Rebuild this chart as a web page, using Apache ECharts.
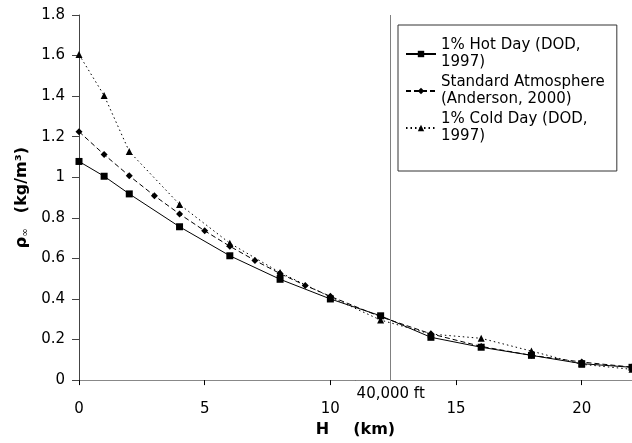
<!DOCTYPE html>
<html>
<head>
<meta charset="utf-8">
<script src="https://cdn.jsdelivr.net/npm/echarts@6/dist/echarts.min.js"></script>
<style>html,body{margin:0;padding:0;background:#fff}#c{width:632px;height:443px}</style>
</head>
<body>
<div id="c"></div>
<script>
// Data (altitude in km, density in kg/m^3)
const hotHeights = [0, 1, 2, 4, 6, 8, 10, 12, 14, 16, 18, 20, 22];
const hotDensity = [1.078, 1.005, 0.918, 0.756, 0.613, 0.497, 0.40, 0.317, 0.211, 0.162, 0.122, 0.081, 0.063];
const stdHeights = [0, 1, 2, 3, 4, 5, 6, 7, 8, 9, 10, 12, 14, 16, 18, 20, 22];
const stdDensity = [1.225, 1.112, 1.007, 0.909, 0.819, 0.736, 0.660, 0.590, 0.525, 0.467, 0.413, 0.312, 0.228, 0.166, 0.122, 0.089, 0.064];
const coldHeights = [0, 1, 2, 4, 6, 8, 10, 12, 14, 16, 18, 20, 22];
const coldDensity = [1.605, 1.403, 1.127, 0.866, 0.675, 0.530, 0.410, 0.296, 0.227, 0.206, 0.143, 0.078, 0.053];
const seriesNames = ['1% Hot Day (DOD,\n1997)', 'Standard Atmosphere\n(Anderson, 2000)', '1% Cold Day (DOD,\n1997)'];
const refLineKm = 12.4;
const refLineLabel = '40,000 ft';
const xTicks = {min: 0, max: 22, interval: 5};
const yTicks = {min: 0, max: 1.8, interval: 0.2};

const zip = (a, b) => a.map((v, i) => [v, b[i]]);
const FONT = 'DejaVu Sans, sans-serif';

const chart = echarts.init(document.getElementById('c'), null, {renderer: 'canvas'});
chart.setOption({
  animation: false,
  backgroundColor: '#fff',
  textStyle: {fontFamily: FONT},
  grid: {left: 79, top: 15, bottom: 60, right: -3, containLabel: false},
  legend: {
    orient: 'vertical',
    left: 398, top: 25,
    padding: [12, 12, 26, 7],
    itemWidth: 30, itemHeight: 8, itemGap: 3,
    borderColor: '#333', borderWidth: 1,
    backgroundColor: '#fff',
    textStyle: {fontFamily: FONT, fontSize: 15, color: '#000', lineHeight: 17},
    data: seriesNames
  },
  xAxis: [{
    type: 'value', min: xTicks.min, max: xTicks.max, interval: xTicks.interval,
    name: '{b|H}{g|}{b|(km)}', nameLocation: 'middle', nameGap: 41,
    nameTextStyle: {rich: {
      b: {fontSize: 16, fontWeight: 'bold', fontFamily: FONT, color: '#000'},
      g: {width: 24}
    }},
    axisLine: {show: true, onZero: false, lineStyle: {color: '#000', width: 1}},
    axisTick: {show: true, inside: false, length: 5, lineStyle: {color: '#000'}},
    axisLabel: {fontSize: 15, color: '#000', margin: 22, fontFamily: FONT, showMaxLabel: false},
    splitLine: {show: false}
  }, {
    type: 'value', position: 'top', min: xTicks.min, max: xTicks.max,
    axisLine: {show: true, lineStyle: {color: '#888', width: 1}},
    axisTick: {show: false}, axisLabel: {show: false}, splitLine: {show: false}
  }],
  yAxis: {
    type: 'value', min: yTicks.min, max: yTicks.max, interval: yTicks.interval,
    name: '{b|ρ}{s|∞}    {b|(kg/m³)}', nameLocation: 'middle', nameGap: 49, nameRotate: 90,
    nameTextStyle: {rich: {
      b: {fontSize: 16, fontWeight: 'bold', fontFamily: FONT, color: '#000'},
      s: {fontSize: 10, fontFamily: FONT, color: '#000', verticalAlign: 'bottom', padding: [6, 0, 0, 0]}
    }},
    axisLine: {show: true, onZero: false, lineStyle: {color: '#444', width: 1}},
    axisTick: {show: true, inside: false, length: 7, lineStyle: {color: '#444'}},
    axisLabel: {fontSize: 15, color: '#000', margin: 14, fontFamily: FONT},
    splitLine: {show: false}
  },
  series: [{
    name: seriesNames[0], type: 'line', data: zip(hotHeights, hotDensity),
    symbol: 'rect', symbolSize: 7, showAllSymbol: true,
    lineStyle: {color: '#000', width: 1, type: 'solid'},
    itemStyle: {color: '#000'},
    markLine: {
      silent: true, symbol: ['none', 'none'],
      lineStyle: {color: '#808080', width: 1, type: 'solid'},
      label: {show: true, position: 'start', formatter: refLineLabel, fontSize: 15, color: '#000', fontFamily: FONT, distance: 7},
      data: [{xAxis: refLineKm}]
    }
  }, {
    name: seriesNames[1], type: 'line', data: zip(stdHeights, stdDensity),
    symbol: 'diamond', symbolSize: 7, showAllSymbol: true,
    lineStyle: {color: '#000', width: 1, type: [5, 3]},
    itemStyle: {color: '#000'}
  }, {
    name: seriesNames[2], type: 'line', data: zip(coldHeights, coldDensity),
    symbol: 'triangle', symbolSize: 7, showAllSymbol: true,
    lineStyle: {color: '#000', width: 1, type: [1.5, 3]},
    itemStyle: {color: '#000'}
  }]
});
</script>
</body>
</html>
